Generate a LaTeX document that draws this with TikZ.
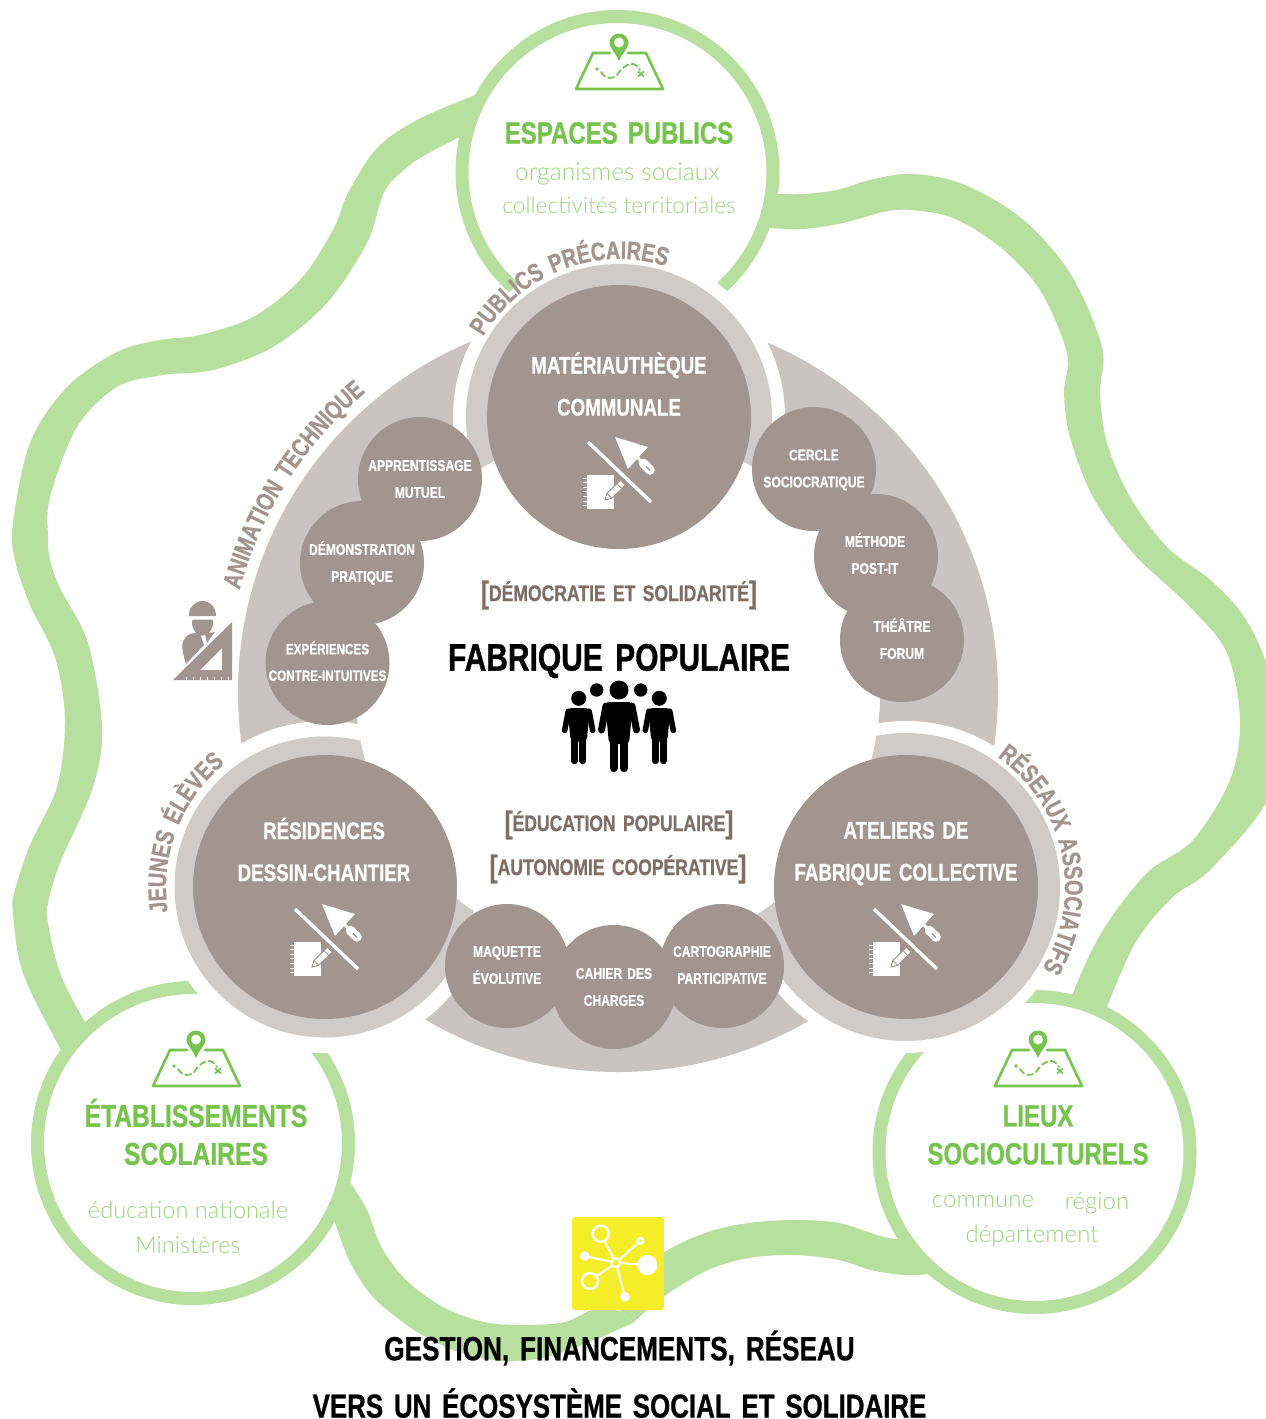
\documentclass[tikz,border=0pt]{standalone}
\usepackage{fontspec}
\usetikzlibrary{decorations.text}
\setmainfont{Liberation Sans}
\newfontfamily\cond[FakeStretch=0.78,FakeBold=0.8,WordSpace=1.5]{Liberation Sans Bold}
\newfontfamily\lite{Lato Light}
\definecolor{ringgreen}{HTML}{B7DF9E}
\definecolor{txtgreen}{HTML}{76C44E}
\definecolor{thingreen}{HTML}{9CD47A}
\definecolor{darkgrey}{HTML}{A2958F}
\definecolor{ringgrey}{HTML}{D0CBC8}
\definecolor{sectgrey}{HTML}{CAC3BF}
\definecolor{brown}{HTML}{7D6E67}
\definecolor{yel}{HTML}{F5EC2A}
\newcommand{\csz}[2]{\cond\fontsize{#1}{#2}\selectfont}
\tikzset{
  wave/.style={fill=ringgreen},
  smoothp/.style={smooth,tension=0.55},
  greenring/.style={draw=ringgreen,line width=13pt,fill=white},
  bigdisc/.style={circle,fill=darkgrey,minimum size=264pt,inner sep=0pt},
  smalldisc/.style={circle,fill=darkgrey,minimum size=124pt,inner sep=0pt},
  biglabel/.style={align=center,text=white,font=\csz{24}{42},inner sep=0pt},
  smalllabel/.style={align=center,text=white,font=\csz{15.5}{27},inner sep=0pt},
  greenhead/.style={align=center,text=txtgreen,font=\csz{30.8}{38},inner sep=0pt},
  thin/.style={text=thingreen,font=\lite\fontsize{24}{24}\selectfont,inner sep=0pt},
  centerlab/.style={text=brown,font=\csz{22.5}{26},inner sep=0pt},
  bottomlab/.style={text=black,font=\csz{33.5}{36},inner sep=0pt},
  curvelab/.style={decorate,decoration={text along path,text align=center,
     text color=darkgrey}},
}
\newcommand{\mapicon}[2]{%
 \begin{scope}[shift={(#1,-#2)}]
  \draw[txtgreen,line width=2.6pt,line join=round,line cap=round]
     (-9,-10)--(-26,-10)--(-43,-46)--(44,-46)--(27,-10)--(9,-10);
  \fill[txtgreen] (0,-18) .. controls (-3,-10) and (-9.5,-5) .. (-9.5,0)
     arc[start angle=180,end angle=0,radius=9.5] .. controls (9.5,-5) and (3,-10) .. (0,-18) -- cycle;
  \fill[white] (0,0.5) circle[radius=5];
  \fill[txtgreen] (-22,-26) circle[radius=1.8];
  \draw[txtgreen,line width=1.8pt,dash pattern=on 6pt off 3.5pt,line cap=round]
     (-18,-29) .. controls (-13,-37) and (-6,-36) .. (-2,-32)
     .. controls (2,-26) and (8,-20) .. (14,-21) .. controls (18,-22) and (20,-25) .. (21,-27);
  \draw[txtgreen,line width=1.7pt] (19,-28.5)--(25,-33.5) (19,-33.5)--(25,-28.5);
 \end{scope}}
\newcommand{\toolicon}[2]{%
 \begin{scope}[shift={(#1,-#2)}]
  \draw[white,line width=3.4pt] (-31,-25)--(32,-85);
  \fill[white,rounded corners=.6pt] (-4,-20)--(29,-30)--(9,-52)--cycle;
  \draw[white,line width=3pt] (19,-41)--(24,-46);
  \draw[white,line width=9.5pt,line cap=round] (24.5,-46.5)--(31,-53);
  \draw[darkgrey,line width=1.2pt,line cap=round] (27,-49.5)--(31,-53.5);
  \fill[white] (-32,-58) rectangle (-5,-92);
  \foreach \t in {0,...,6}{\draw[white,line width=.9pt] (-36,-61-4.6*\t)--(-32,-61-4.6*\t);}
  \begin{scope}[shift={(-14,-83)},rotate=44]
   \fill[white,draw=darkgrey,line width=1pt] (0,0)--(6,3.4)--(25,3.4)--(25,-3.4)--(6,-3.4)--cycle;
   \draw[darkgrey,line width=.8pt] (6,3.4)--(6,-3.4) (20,3.4)--(20,-3.4);
  \end{scope}
 \end{scope}}
\newcommand{\person}[3]{%
 \begin{scope}[shift={(#1,-#2)},scale=#3]
  \fill[black,rounded corners=4pt] (-14,0)--(14,0)--(10,-42)--(-10,-42)--cycle;
  \draw[black,line width=#3*7pt,line cap=round] (-13,-4)--(-17.5,-28) (13,-4)--(17.5,-28);
  \draw[black,line width=#3*8.5pt,line cap=round] (-5.2,-36)--(-5.2,-66) (5.2,-36)--(5.2,-66);
 \end{scope}}
\begin{document}
\begin{tikzpicture}[x=1pt,y=1pt]
\useasboundingbox (0,0) rectangle (1266,-1419);
\clip (0,0) rectangle (1266,-1419);
\fill[white] (0,0) rectangle (1266,-1419);
% ---- green waves
\fill[wave] plot[smoothp] coordinates {(500,-85)(475,-95)(417,-120)(377,-148)(348,-193)(333,-230)(300,-280)(253,-317)(200,-335)(160,-340)(117,-352)(67,-387)(30,-443)(13,-523)(15,-560)(30,-605)(55,-657)(65,-720)(57,-787)(30,-845)(15,-890)(13,-913)(23,-973)(60,-1048)(80,-1080)}
 -- plot[smoothp] coordinates {(110,-1060)(85,-1022)(60,-973)(48,-923)(48,-903)(60,-863)(93,-787)(102,-727)(88,-643)(60,-588)(50,-560)(48,-537)(50,-497)(77,-427)(117,-387)(163,-375)(213,-370)(273,-347)(327,-303)(367,-243)(380,-203)(390,-183)(417,-160)(460,-137)(490,-125)} -- cycle;
\fill[wave] plot[smoothp] coordinates {(750,-194)(778,-194)(803,-194)(837,-190)(870,-180)(910,-174)(960,-183)(1020,-217)(1070,-273)(1102,-347)(1100,-393)(1107,-443)(1130,-497)(1167,-547)(1208,-578)(1237,-607)(1257,-640)(1275,-690)(1280,-740)(1266,-803)(1210,-870)(1173,-897)(1137,-940)(1107,-1007)(1095,-1050)}
 -- plot[smoothp] coordinates {(1060,-1040)(1073,-993)(1103,-930)(1147,-873)(1193,-840)(1230,-780)(1240,-720)(1227,-653)(1190,-607)(1133,-553)(1093,-497)(1070,-437)(1064,-393)(1067,-353)(1040,-290)(1000,-247)(953,-218)(910,-210)(883,-212)(843,-223)(803,-229)(768,-228)(745,-228)} -- cycle;
\fill[wave] plot[smoothp] coordinates {(330,-1150)(350,-1182)(367,-1210)(382,-1248)(406,-1280)(443,-1307)(484,-1322)(524,-1325)(565,-1322)(597,-1308)(622,-1312)}
 -- (633,-1323) -- plot[smoothp] coordinates {(633,-1323)(587,-1343)(547,-1357)(513,-1361)(487,-1359)(453,-1350)(414,-1330)(373,-1297)(349,-1260)(335,-1223)(325,-1200)} -- cycle;
\fill[wave] plot[smoothp] coordinates {(600,-1300)(663,-1253)(708,-1232)(749,-1223)(794,-1220)(839,-1223)(884,-1237)(920,-1242)}
 -- plot[smoothp] coordinates {(930,-1274)(904,-1275)(871,-1270)(839,-1260)(794,-1255)(749,-1258)(708,-1270)(663,-1297)(633,-1323)} -- (622,-1312) -- cycle;
% ---- green rings
\node[circle,greenring,minimum size=311pt,inner sep=0pt] (ringTop) at (617.5,-172) {};
\node[circle,greenring,minimum size=311pt,inner sep=0pt] (ringLeft) at (193,-1143) {};
\node[circle,greenring,minimum size=311pt,inner sep=0pt] (ringRight) at (1034.5,-1152) {};
% ---- big annulus
\fill[sectgrey,even odd rule] (618,-692) circle[radius=380] (618,-692) circle[radius=262];
% ---- white gaps and light rings
\foreach \c in {(619,-417),(325,-887),(906,-887)}{\fill[white] \c circle[radius=166];}
\fill[ringgrey] (619,-417) circle[radius=153];
\fill[ringgrey] (325,-887) circle[radius=150.5];
\fill[ringgrey] (906,-887) circle[radius=154];
\fill[white] (618,-692) circle[radius=262];
% ---- discs
\node[bigdisc] (discTop) at (619,-417) {};
\node[bigdisc] (discLeft) at (325,-887) {};
\node[bigdisc] (discRight) at (906,-887) {};
\node[smalldisc] (sA) at (420,-479) {};
\node[smalldisc] (sB) at (362,-563) {};
\node[smalldisc] (sC) at (327.5,-663) {};
\node[smalldisc] (sD) at (814,-469) {};
\node[smalldisc] (sE) at (876,-556) {};
\node[smalldisc] (sF) at (902,-640) {};
\node[smalldisc] (sG) at (507,-966) {};
\node[smalldisc] (sH) at (614,-987) {};
\node[smalldisc] (sI) at (722,-966) {};
% ---- labels in discs
\node[biglabel] (lTop) at (619,-384) {MATÉRIAUTHÈQUE\\COMMUNALE};
\node[biglabel] (lLeft) at (324,-849.5) {RÉSIDENCES\\DESSIN-CHANTIER};
\node[biglabel] (lRight) at (906,-853.5) {ATELIERS DE\\FABRIQUE COLLECTIVE};
\node[smalllabel] (tA) at (420,-479) {APPRENTISSAGE\\MUTUEL};
\node[smalllabel] (tB) at (362,-563) {DÉMONSTRATION\\PRATIQUE};
\node[smalllabel,font=\csz{15}{26.5}] (tC) at (327.5,-661) {EXPÉRIENCES\\CONTRE-INTUITIVES};
\node[smalllabel] (tD) at (814,-470) {CERCLE\\SOCIOCRATIQUE};
\node[smalllabel] (tE) at (875,-553.5) {MÉTHODE\\POST-IT};
\node[smalllabel] (tF) at (902,-638.5) {THÉÂTRE\\FORUM};
\node[smalllabel] (tG) at (507,-965) {MAQUETTE\\ÉVOLUTIVE};
\node[smalllabel] (tH) at (614,-987) {CAHIER DES\\CHARGES};
\node[smalllabel] (tI) at (722,-965) {CARTOGRAPHIE\\PARTICIPATIVE};
% ---- tools
\toolicon{619}{417}
\toolicon{326}{884}
\toolicon{905}{884}
% ---- curved text
\newcommand{\cf}{\csz{25.5}{25.5}}
\path[curvelab,decoration={text={|\cf|PUBLICS PRÉCAIRES}}] (619,-417) ++(157:158) arc[start angle=157,end angle=65,radius=158];
\path[curvelab,decoration={text={|\cf|ANIMATION TECHNIQUE}}] (618,-692) ++(177:392) arc[start angle=177,end angle=118,radius=392];
\path[curvelab,decoration={text={|\cf|JEUNES ÉLÈVES}}] (325,-887) ++(204:159) arc[start angle=204,end angle=114,radius=159];
\path[curvelab,decoration={text={|\cf|RÉSEAUX ASSOCIATIFS}}] (906,-887) ++(70:159) arc[start angle=70,end angle=-46,radius=159];
% ---- centre
\node[centerlab] (cA) at (619,-595) {\raisebox{-2pt}{\fontsize{31}{31}\selectfont[}DÉMOCRATIE ET SOLIDARITÉ\raisebox{-2pt}{\fontsize{31}{31}\selectfont]}};
\node[inner sep=0pt,text=black,font=\csz{38.4}{40}] (cB) at (619,-661) {FABRIQUE POPULAIRE};
\node[centerlab] (cC) at (619,-825) {\raisebox{-2pt}{\fontsize{31}{31}\selectfont[}ÉDUCATION POPULAIRE\raisebox{-2pt}{\fontsize{31}{31}\selectfont]}};
\node[centerlab] (cD) at (618,-869) {\raisebox{-2pt}{\fontsize{31}{31}\selectfont[}AUTONOMIE COOPÉRATIVE\raisebox{-2pt}{\fontsize{31}{31}\selectfont]}};
% ---- people
\fill[black] (619,-690) circle[radius=9.5] (596.7,-690) circle[radius=6.7] (640.7,-690) circle[radius=6.7] (578.7,-698.3) circle[radius=7.5] (659.3,-698.3) circle[radius=7.5];
\person{619}{702}{1}
\person{578.7}{708}{0.8}
\person{659.3}{708}{0.8}
% ---- worker icon
\fill[darkgrey] (189,-616) .. controls (189,-607) and (195,-601) .. (202.5,-601) .. controls (210,-601) and (216,-607) .. (216,-616) -- cycle;
\fill[darkgrey,rounded corners=1pt] (192,-619.5) -- (213,-619.5) -- (213,-624) .. controls (212,-631) and (207,-635.5) .. (202.5,-635.5) .. controls (198,-635.5) and (193,-631) .. (192,-624) -- cycle;
\fill[darkgrey] (190,-634) -- (199,-632) -- (201,-636) -- (204,-645) -- (186,-664) -- (183.5,-655) .. controls (181,-645) and (182,-638) .. (190,-634) -- cycle;
\fill[darkgrey] (205,-633.5) -- (215,-632) -- (207,-643) -- cycle;
\fill[darkgrey,even odd rule] (232,-622) -- (232,-680) -- (173,-680) -- cycle (222,-648) -- (222,-670) -- (200,-670) -- cycle;
\foreach \tx in {186,193,...,228}{\draw[white,line width=.9pt] (\tx,-680)--(\tx,-677);}
% ---- map icons
\mapicon{619}{43}
\mapicon{196}{1040}
\mapicon{1038}{1040}
% ---- ring texts
\node[greenhead] (hTop) at (619,-133) {ESPACES PUBLICS};
\node[thin,font=\lite\fontsize{24.7}{24}\selectfont] (th1) at (617.5,-174) {organismes sociaux};
\node[thin,font=\lite\fontsize{22.8}{24}\selectfont] (th2) at (619,-205) {collectivités territoriales};
\node[greenhead,font=\csz{31.6}{38}] (hLeft) at (196,-1132) {ÉTABLISSEMENTS\\SCOLAIRES};
\node[thin,font=\lite\fontsize{23.6}{24}\selectfont] (th3) at (188,-1210) {éducation nationale};
\node[thin,font=\lite\fontsize{23.6}{24}\selectfont] (th4) at (188,-1245) {Ministères};
\node[greenhead] (hRight) at (1038,-1135) {LIEUX\\SOCIOCULTURELS};
\node[thin] (th5) at (983,-1202) {commune};
\node[thin] (th6) at (1097,-1203) {région};
\node[thin] (th7) at (1032,-1236) {département};
% ---- yellow icon
\fill[yel,rounded corners=3pt] (572,-1217) rectangle (664,-1310);
\coordinate (hub) at (615.7,-1262.7);
\coordinate (n1) at (600.7,-1233.7);
\coordinate (n2) at (640.3,-1241);
\coordinate (n3) at (584.7,-1256);
\coordinate (n4) at (647.3,-1265);
\coordinate (n5) at (590,-1281);
\coordinate (n6) at (625,-1296.7);
\draw[white,line width=2pt] (hub)--(n1) (hub)--(n2) (hub)--(n3) (hub)--(n4) (hub)--(n5) (hub)--(n6);
\draw[white,line width=2.2pt,fill=yel] (hub) circle[radius=4.5];
\draw[white,line width=2.4pt,fill=yel] (n1) circle[radius=8];
\draw[white,line width=2.4pt,fill=yel] (n5) circle[radius=8];
\fill[white] (n2) circle[radius=4.2];
\fill[yel] (n2) circle[radius=1.3];
\fill[white] (n3) circle[radius=4.8];
\fill[white] (n4) circle[radius=10];
\fill[white] (n6) circle[radius=4.8];
% ---- bottom
\node[bottomlab] (b1) at (619.5,-1348) {GESTION, FINANCEMENTS, RÉSEAU};
\node[bottomlab,font=\csz{33.2}{36}] (b2) at (619.5,-1403) {VERS UN ÉCOSYSTÈME SOCIAL ET SOLIDAIRE};
\end{tikzpicture}
\end{document}
